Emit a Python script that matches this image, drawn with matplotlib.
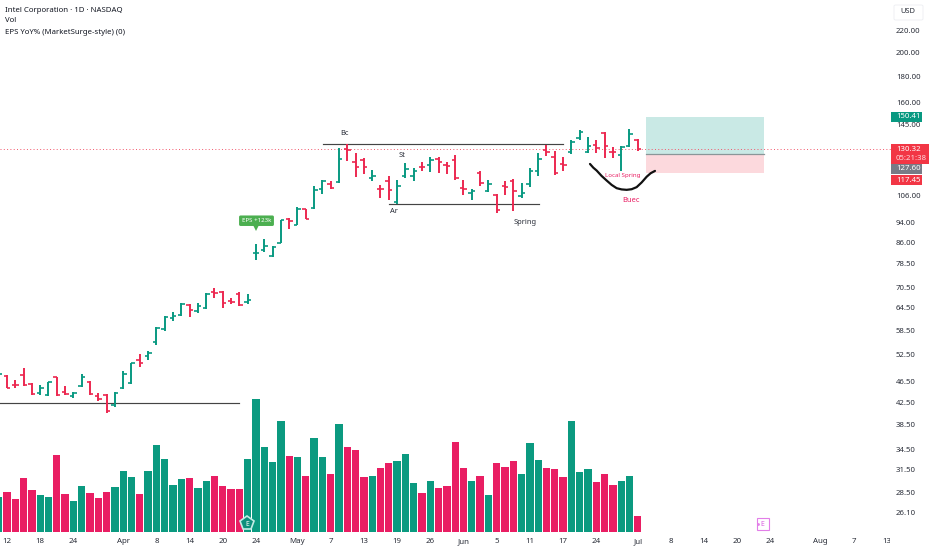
import matplotlib
matplotlib.use("Agg")
import matplotlib.pyplot as plt
from matplotlib.patches import Rectangle, FancyBboxPatch
from matplotlib.transforms import Bbox
import numpy as np

plt.rcParams['font.family'] = ['Noto Sans', 'DejaVu Sans']

highs = [48.6,47.93,46.88,49.37,46.2,45.8,46.54,47.58,45.65,44.4,48.07,46.68,44.33,44.05,44.4,48.86,50.63,52.52,53.39,59.2,62.24,63.45,65.83,65.54,66.03,68.82,70.56,69.53,67.5,69.13,68.61,
         85.5,87.4,84.9,95.3,96.2,100.7,100.1,110.7,113.7,112.9,131.1,133.0,127.9,125.1,118.8,111.2,115.7,113.7,122.4,119.7,123.3,126.0,125.6,123.3,
         126.9,113.7,109.1,118.5,113.4,106.9,113.2,114.0,112.0,119.7,127.9,132.7,129.4,125.6,135.7,141.8,137.7,135.7,140.8,131.3,132.3,142.5,136.1]
lows = [47.3,45.19,45.3,45.65,43.88,43.95,43.7,43.7,43.8,43.23,45.4,43.88,42.8,40.6,41.67,45.0,46.0,49.73,51.23,54.83,58.34,60.88,62.24,62.06,62.98,64.31,67.5,64.6,65.64,65.07,65.64,
        79.8,82.8,81.0,85.9,91.5,93.0,95.6,100.0,106.7,109.1,112.0,123.8,115.0,116.6,113.0,104.9,103.8,102.3,114.8,113.0,118.0,117.5,117.1,116.8,
        113.7,106.4,104.1,110.9,107.7,98.4,106.4,99.2,104.9,110.4,115.7,126.5,116.2,118.0,127.5,135.7,127.9,127.9,125.1,125.1,118.3,131.3,129.4]
opens = [47.6,47.7,45.9,47.93,46.05,44.2,43.88,47.45,44.53,43.75,45.7,46.47,43.75,43.88,41.98,45.19,46.2,51.23,52.14,55.48,58.68,61.6,62.52,65.35,63.63,64.6,69.13,69.23,66.4,68.61,66.33,
         82.2,83.4,81.2,86.1,95.7,93.2,99.8,100.6,109.1,111.7,112.5,130.1,123.3,124.2,114.8,109.3,113.0,103.0,115.9,115.9,120.6,121.4,124.7,121.4,
         124.2,109.6,107.2,117.1,108.3,106.4,110.9,113.2,106.1,111.7,118.0,129.8,126.0,121.8,128.8,137.1,128.8,132.7,139.8,128.8,126.9,132.3,135.7]
closes = [48.1,45.3,45.8,45.8,44.0,45.19,46.4,43.88,44.05,44.2,47.58,44.05,43.1,40.94,44.2,48.15,50.48,50.48,52.76,58.94,61.88,62.24,65.54,63.92,65.06,68.61,68.82,65.84,66.3,65.35,66.71,
          82.4,84.9,84.6,95.0,94.6,100.0,95.8,108.8,113.0,109.6,124.6,129.8,120.6,120.6,115.9,109.1,108.5,110.9,119.2,118.5,120.2,124.2,122.9,121.1,
          114.5,109.1,108.0,112.0,111.5,99.5,110.4,108.0,107.2,118.0,124.6,128.8,117.1,121.4,134.2,140.8,132.3,130.7,132.1,128.4,131.7,139.4,130.32]
volumes = [35,40,33,54,42,37,35,77,38,31,46,39,34,40,45,61,55,38,61,87,73,47,53,54,44,51,56,46,43,43,73,133,85,70,111,76,
           75,56,94,75,58,108,85,82,55,56,64,69,71,78,49,39,51,44,46,90,64,51,56,37,69,65,71,58,89,72,64,63,55,111,60,63,50,58,47,51,56,16]
bar_index = np.arange(-1, len(closes) - 1)

x_tick_pos = [0,4,8,14,18,22,26,30,35,39,43,47,51,55,59,63,67,71,76,80,84,88,92,98,102,106]
x_tick_labels = ['12','18','24','Apr','8','14','20','24','May','7','13','19','26','Jun','5','11','17','24','Jul','8','14','20','24','Aug','7','13']
bold_labels = {'Apr','May','Jun','Jul','Aug'}
price_ticks = [220,200,180,160,145,106,94,86,78.5,70.5,64.5,58.5,52.5,46.5,42.5,38.5,34.5,31.5,28.5,26.1]

last_price = 130.32
target_price = 150.41
entry_price = 127.60
stop_price = 117.45
support_level = 42.3
bc_level = 133.0
ar_level = 102.4
curve_x = [70.24,70.64,71.04,71.64,72.24,72.85,73.45,74.05,74.66,75.26,75.86,76.46,77.07,77.55,78.07]
curve_p = [122.0,120.0,118.5,115.7,113.4,111.2,109.6,109.0,108.8,109.1,110.1,112.4,115.3,117.1,118.3]

GREEN = '#089981'
RED = '#ec2850'
VRED = '#e91e63'
VGREEN = '#0b9a80'
TXT = '#2a2e39'

W, H = 932, 550
fig = plt.figure(figsize=(W/100, H/100), dpi=100, facecolor='white')
AR, AB = 891, 532
pos = [0, (H-AB)/H, AR/W, AB/H]
ax = fig.add_axes(pos)
vax = fig.add_axes(pos, sharex=ax)
vax.set_zorder(0); ax.set_zorder(1); ax.patch.set_alpha(0)

ax.set_yscale('log')
ax.set_ylim(23.94, 252.0)
ax.set_xlim(-0.843, (AR-7)/8.3)
vax.set_ylim(0, AB)
vax.axis('off')

# volume
vcol = [VGREEN if c > o else VRED for o, c in zip(opens, closes)]
vax.bar(bar_index, volumes, width=0.87, color=vcol, linewidth=0)

# long-position box
ax.fill_between([77, 91.2], entry_price, target_price, color='#c9e9e5', linewidth=0, zorder=1)
ax.fill_between([77, 91.2], stop_price, entry_price, color='#fcd9dd', linewidth=0, zorder=1)
ax.plot([77, 91.2], [entry_price, entry_price], color='#8a9698', lw=0.9, zorder=2)

# price line
ax.axhline(last_price, color='#f2566b', lw=0.7, ls=(0, (1, 2.4)), zorder=2)

# levels
ax.plot([-1, 28], [support_level]*2, color='#444444', lw=0.85, zorder=2)
ax.plot([38.07, 67], [bc_level]*2, color='#444444', lw=0.85, zorder=2)
ax.plot([46.0, 64.1], [ar_level]*2, color='#444444', lw=0.85, zorder=2)

# OHLC bars
for i, o, h, l, c in zip(bar_index, opens, highs, lows, closes):
    col = GREEN if c > o else RED
    ax.plot([i, i], [l, h], color=col, lw=1.4, solid_capstyle='butt', zorder=3)
    ax.plot([i-0.42, i], [o, o], color=col, lw=1.2, solid_capstyle='butt', zorder=3)
    ax.plot([i, i+0.42], [c, c], color=col, lw=1.2, solid_capstyle='butt', zorder=3)

# hand-drawn curve
ax.plot(curve_x, curve_p, color='#111111', lw=1.6, solid_capstyle='round', solid_joinstyle='round', zorder=4)

# annotations
ax.text(40.6, 139.9, 'Bc', fontsize=5.4, color=TXT, ha='center', va='center', zorder=5)
ax.text(47.6, 126.6, 'St', fontsize=5.4, color=TXT, ha='center', va='center', zorder=5)
ax.text(46.6, 98.9, 'Ar', fontsize=5.4, color=TXT, ha='center', va='center', zorder=5)
ax.text(62.4, 94.0, 'Spring', fontsize=5.4, color=TXT, ha='center', va='center', zorder=5)
ax.text(74.2, 115.7, 'Local Spring', fontsize=4.4, color=VRED, ha='center', va='center', zorder=5)
ax.text(75.2, 103.7, 'Buec', fontsize=5.4, color=VRED, ha='center', va='center', zorder=5)
ax.plot([30.06], [91.7], marker='v', ms=4, color='#4caf50', mew=0, zorder=5)
ax.text(30.06, 94.9, 'EPS +123k', fontsize=4.4, color='white', weight='bold', ha='center', va='center', zorder=6,
        bbox=dict(boxstyle='round,pad=0.45,rounding_size=0.25', fc='#4caf50', ec='none'))

# earnings markers (on the volume baseline scale)
vax.plot([28.95], [9], marker='p', ms=10.5, mfc='#0e8f7c', mec='#c4ece5', mew=1.2, zorder=5)
vax.text(28.95, 8, 'E', fontsize=5, color='white', weight='bold', ha='center', va='center', zorder=6)
vax.plot([91.05], [8], marker='s', ms=8, mfc='white', mec='#e27ee8', mew=0.8, zorder=5)
vax.text(91.05, 8, 'E', fontsize=5, color='#d95fe0', ha='center', va='center', zorder=6)
vax.plot([90.45], [8], marker='o', ms=2, color='#e27ee8', mew=0, zorder=6)

# axes decoration
for s in ax.spines.values():
    s.set_visible(False)
ax.yaxis.tick_right()
ax.set_yticks(price_ticks)
ax.set_yticklabels([f'{p:.2f}' for p in price_ticks])
ax.minorticks_off()
ax.tick_params(axis='y', length=0, pad=3.6, labelsize=5.6, labelcolor=TXT)
ax.set_xticks(x_tick_pos)
ax.set_xticklabels(x_tick_labels)
ax.tick_params(axis='x', length=0, pad=4.3, labelsize=5.7, labelcolor=TXT)
clip = Bbox([[0, 0], [890, H]])
for t in ax.get_xticklabels():
    if t.get_text() in bold_labels:
        t.set_fontweight('bold')
    t.set_clip_box(clip); t.set_clip_on(True)

# legend text
def fx(p): return p / W
def fy(p): return 1 - p / H
fig.text(fx(5), fy(10), 'Intel Corporation · 1D · NASDAQ', fontsize=5.65, weight='bold', color='#131722', va='center', ha='left')
fig.text(fx(5), fy(21), 'Vol', fontsize=5.6, color='#131722', va='center', ha='left')
fig.text(fx(5), fy(32), 'EPS YoY% (MarketSurge-style) (0)', fontsize=5.6, color='#131722', va='center', ha='left')

# USD box and price tags
def tag(x0, x1, y0, y1, color, zorder=5):
    fig.add_artist(Rectangle((fx(x0), fy(y1)), (x1-x0)/W, (y1-y0)/H, transform=fig.transFigure,
                             fc=color, ec='none', zorder=zorder))
fig.add_artist(FancyBboxPatch((fx(894), fy(20)), 29/W, 15/H, transform=fig.transFigure,
                              boxstyle='round,pad=0,rounding_size=0.002', fc='white', ec='#eceef2', lw=0.6))
fig.text(fx(908), fy(11.5), 'USD', fontsize=5.4, color=TXT, ha='center', va='center', zorder=6)
tag(891, 922, 112, 122, GREEN)
tag(891, 929, 144, 164, '#f23645')
tag(891, 922, 164, 174, '#787b86')
tag(891, 922, 175, 185, '#f23645')
for y, s, col in [(117, f'{target_price:.2f}', 'white'), (149, f'{last_price:.2f}', 'white'),
                  (158.5, '05:21:38', '#ffd9dd'), (169, f'{entry_price:.2f}', 'white'), (180, f'{stop_price:.2f}', 'white')]:
    fig.text(fx(896), fy(y), s, fontsize=5.6, color=col, ha='left', va='center', zorder=7)

fig.savefig('out.png', dpi=100, facecolor='white')
